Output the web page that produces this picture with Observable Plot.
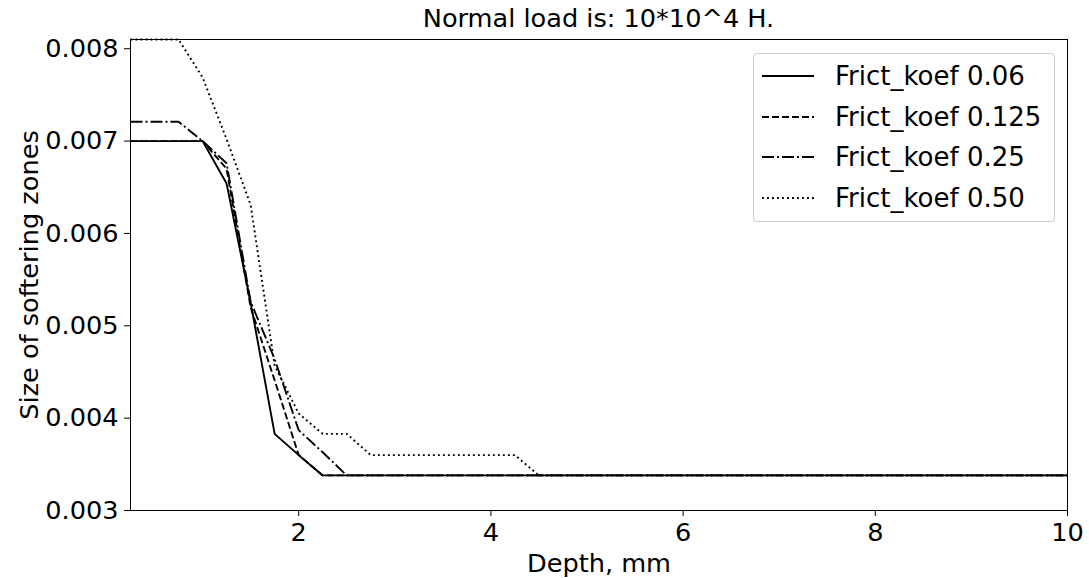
<!DOCTYPE html>
<html><head><meta charset="utf-8">
<script src="https://cdn.jsdelivr.net/npm/d3@7"></script>
<script src="https://cdn.jsdelivr.net/npm/@observablehq/plot@0.6"></script>
<style>
body{margin:0;background:#fff;font-family:"DejaVu Sans",sans-serif;}
#wrap{position:relative;width:1089px;height:578px;overflow:hidden;}
#title{position:absolute;left:130px;width:937px;top:0;height:36px;text-align:center;font-size:25.6px;line-height:36px;color:#000;}
#chart{position:absolute;left:0;top:35px;}
#legend{position:absolute;left:753px;top:53px;width:302px;height:169px;border:1px solid #ccc;border-radius:4px;background:rgba(255,255,255,0.8);box-sizing:border-box;}
.row{position:absolute;left:0;height:40px;display:flex;align-items:center;font-size:26px;color:#000;white-space:nowrap;}
.row svg{margin-left:8px;margin-right:21px;}
</style></head>
<body>
<div id="wrap">
  <div id="title"></div>
  <div id="chart"></div>
  <div id="legend"></div>
</div>
<script>
const titleText = "Normal load is: 10*10^4 H.";
const xLabel = "Depth, mm";
const yLabel = "Size of softering zones";
const seriesNames = ["Frict_koef 0.06", "Frict_koef 0.125", "Frict_koef 0.25", "Frict_koef 0.50"];

const depth006 = [0.25, 0.5, 0.75, 1.0, 1.25, 1.5, 1.75, 2.0, 2.25, 10];
const size006  = [0.0070, 0.0070, 0.0070, 0.0070, 0.00654, 0.00525, 0.00383, 0.0036, 0.00338, 0.00338];

const depth0125 = [0.25, 0.5, 0.75, 1.0, 1.25, 1.5, 1.75, 2.0, 2.25, 10];
const size0125  = [0.0070, 0.0070, 0.0070, 0.0070, 0.0067, 0.0052, 0.00441, 0.0036, 0.00338, 0.00338];

const depth025 = [0.25, 0.5, 0.75, 1.0, 1.25, 1.5, 1.75, 2.0, 2.25, 2.5, 10];
const size025  = [0.00721, 0.00721, 0.00721, 0.0070, 0.00676, 0.00526, 0.00464, 0.00387, 0.00363, 0.00338, 0.00338];

const depth050 = [0.25, 0.5, 0.75, 1.0, 1.25, 1.5, 1.75, 2.0, 2.25, 2.5, 2.75, 3.0, 3.25, 3.5, 3.75, 4.0, 4.25, 4.5, 10];
const size050  = [0.0081, 0.0081, 0.0081, 0.00769, 0.00702, 0.00631, 0.00457, 0.00405, 0.00383, 0.00383, 0.0036, 0.0036, 0.0036, 0.0036, 0.0036, 0.0036, 0.0036, 0.00338, 0.00338];

const xTicks = [2, 4, 6, 8, 10];
const yTicks = [0.003, 0.004, 0.005, 0.006, 0.007, 0.008];

const depths = [depth006, depth0125, depth025, depth050];
const sizes = [size006, size0125, size025, size050];
const dashes = [null, "7,3", "12,3,2,3", "1.9,3.1"];
const lw = 1.9;

const rows = [];
seriesNames.forEach((name, i) => depths[i].forEach((d, j) => rows.push({series: name, depth: d, size: sizes[i][j]})));

document.getElementById("title").textContent = titleText;

const font = "DejaVu Sans, sans-serif";
const fs = 25.6;
const lineMarks = seriesNames.map((name, i) =>
  Plot.line(rows.filter(r => r.series === name), {
    x: "depth", y: "size", stroke: "#000", strokeWidth: lw,
    strokeDasharray: dashes[i] || undefined, strokeLinejoin: "round", strokeLinecap: "butt"
  })
);

const chart = Plot.plot({
  width: 1089, height: 543,
  marginLeft: 130, marginRight: 22, marginTop: 4, marginBottom: 68,
  style: {fontFamily: font, fontSize: fs + "px", color: "#000", background: "#fff", overflow: "visible"},
  x: {domain: [0.25, 10]},
  y: {domain: [0.003, 0.0081]},
  marks: [
    ...lineMarks,
    Plot.frame({stroke: "#000", strokeWidth: 1}),
    Plot.axisX({ticks: xTicks, tickFormat: d3.format("d"), tickSize: 6, tickPadding: 6, fontSize: fs, label: null, stroke: "#000"}),
    Plot.axisY({ticks: yTicks, tickFormat: d3.format(".3f"), tickSize: 6, tickPadding: 6, fontSize: fs, label: null, stroke: "#000"}),
    Plot.text([xLabel], {text: d => d, frameAnchor: "bottom", dy: 61, fontSize: fs, fill: "#000", textAnchor: "middle"}),
    Plot.text([yLabel], {text: d => d, frameAnchor: "left", dx: -101, rotate: -90, fontSize: fs, fill: "#000", textAnchor: "middle"})
  ]
});
document.getElementById("chart").appendChild(chart);

const legend = document.getElementById("legend");
const rowTops = [0, 40.5, 81, 121.5];
seriesNames.forEach((name, i) => {
  const row = document.createElement("div");
  row.className = "row";
  row.style.top = (2 + rowTops[i]) + "px";
  const ns = "http://www.w3.org/2000/svg";
  const svg = document.createElementNS(ns, "svg");
  svg.setAttribute("width", 52); svg.setAttribute("height", 10);
  const ln = document.createElementNS(ns, "line");
  ln.setAttribute("x1", 0); ln.setAttribute("x2", 52); ln.setAttribute("y1", 5); ln.setAttribute("y2", 5);
  ln.setAttribute("stroke", "#000"); ln.setAttribute("stroke-width", lw);
  if (dashes[i]) ln.setAttribute("stroke-dasharray", dashes[i]);
  svg.appendChild(ln);
  const span = document.createElement("span");
  span.textContent = name;
  row.appendChild(svg); row.appendChild(span);
  legend.appendChild(row);
});
</script>
</body></html>
